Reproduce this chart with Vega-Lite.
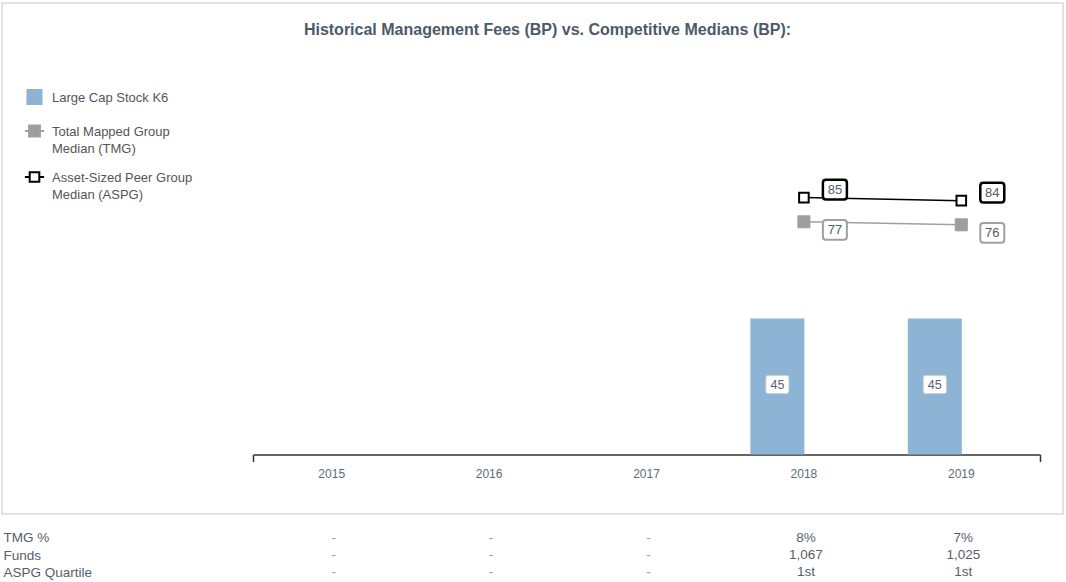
{
  "$schema": "https://vega.github.io/schema/vega-lite/v6.json",
  "background": "white",
  "padding": {"left": 1, "top": 2, "right": 3, "bottom": 0},
  "spacing": 14,
  "config": {
    "font": "Liberation Sans",
    "view": {"stroke": null},
    "legend": {
      "orient": "none",
      "padding": 0,
      "rowPadding": 12,
      "symbolSize": 256,
      "symbolStrokeWidth": 2,
      "symbolFillColor": "#000000",
      "symbolStrokeColor": "#000000",
      "symbolOpacity": 1,
      "labelFont": "Liberation Sans",
      "labelFontSize": 13,
      "labelColor": "#555555",
      "labelOffset": 8.5,
      "labelLimit": 400,
      "labelBaseline": "alphabetic"
    }
  },
  "datasets": {
    "fees": [
      {"year": "2018", "series": "Large Cap Stock K6", "value": 45},
      {"year": "2019", "series": "Large Cap Stock K6", "value": 45},
      {"year": "2018", "series": "Total Mapped Group Median (TMG)", "value": 77},
      {"year": "2019", "series": "Total Mapped Group Median (TMG)", "value": 76},
      {"year": "2018", "series": "Asset-Sized Peer Group Median (ASPG)", "value": 85},
      {"year": "2019", "series": "Asset-Sized Peer Group Median (ASPG)", "value": 84}
    ],
    "table": [
      {"row": "TMG %", "year": "2015", "text": "-"},
      {"row": "TMG %", "year": "2016", "text": "-"},
      {"row": "TMG %", "year": "2017", "text": "-"},
      {"row": "TMG %", "year": "2018", "text": "8%"},
      {"row": "TMG %", "year": "2019", "text": "7%"},
      {"row": "Funds", "year": "2015", "text": "-"},
      {"row": "Funds", "year": "2016", "text": "-"},
      {"row": "Funds", "year": "2017", "text": "-"},
      {"row": "Funds", "year": "2018", "text": "1,067"},
      {"row": "Funds", "year": "2019", "text": "1,025"},
      {"row": "ASPG Quartile", "year": "2015", "text": "-"},
      {"row": "ASPG Quartile", "year": "2016", "text": "-"},
      {"row": "ASPG Quartile", "year": "2017", "text": "-"},
      {"row": "ASPG Quartile", "year": "2018", "text": "1st"},
      {"row": "ASPG Quartile", "year": "2019", "text": "1st"}
    ]
  },
  "vconcat": [
    {
      "width": 1061,
      "height": 511,
      "view": {"stroke": "#d9d9d9", "strokeWidth": 1.5},
      "title": {
        "text": "Historical Management Fees (BP) vs. Competitive Medians (BP):",
        "frame": "group",
        "anchor": "middle",
        "offset": -43,
        "baseline": "middle",
        "dx": 15,
        "fontSize": 16,
        "font": "Liberation Sans",
        "fontWeight": "bold",
        "color": "#4b5a69"
      },
      "data": {"name": "fees"},
      "resolve": {"axis": {"x": "independent"}},
      "encoding": {
        "x": {
          "field": "year",
          "type": "ordinal",
          "scale": {"domain": ["2015", "2016", "2017", "2018", "2019"], "range": [251, 1038], "paddingInner": 0, "paddingOuter": 0},
          "axis": null
        },
        "y": {
          "field": "value",
          "type": "quantitative",
          "scale": {"domain": [0, 149.4], "range": [451.5, 0], "zero": false, "nice": false},
          "axis": null
        }
      },
      "layer": [
        {
          "transform": [{"filter": "datum.series === 'Large Cap Stock K6'"}],
          "mark": {"type": "bar", "width": 54, "xOffset": -26.5},
          "encoding": {
            "x": {
              "field": "year",
              "type": "ordinal",
              "axis": {
                "orient": "bottom",
                "title": null,
                "labelAngle": 0,
                "offset": -59.5,
                "domainColor": "#333333",
                "domainWidth": 1.5,
                "bandPosition": 0,
                "tickSize": 7,
                "tickWidth": 1.5,
                "tickColor": "#333333",
                "tickOpacity": {"condition": {"test": "datum.value === '2015'", "value": 1}, "value": 0},
                "labelPadding": 7,
                "labelFontSize": 12,
                "labelColor": "#5b6b7b",
                "labelFont": "Liberation Sans"
              }
            },
            "fill": {
              "field": "series",
              "type": "nominal",
              "scale": {
                "domain": ["Large Cap Stock K6", "Total Mapped Group Median (TMG)", "Asset-Sized Peer Group Median (ASPG)"],
                "range": ["#8db3d5", "#9e9e9e", "#ffffff"]
              },
              "legend": {"title": null}
            }
          }
        },
        {
          "transform": [{"filter": "datum.series === 'Large Cap Stock K6'"}],
          "mark": {
            "type": "point",
            "shape": "M-0.83,-0.78H0.83Q1,-0.78 1,-0.61V0.61Q1,0.78 0.83,0.78H-0.83Q-1,0.78 -1,0.61V-0.61Q-1,-0.78 -0.83,-0.78Z",
            "size": 529,
            "filled": true,
            "fill": "#ffffff",
            "stroke": "#d0d0d0",
            "strokeWidth": 1,
            "opacity": 1,
            "xOffset": -26.5,
            "yOffset": 66
          }
        },
        {
          "transform": [{"filter": "datum.series === 'Large Cap Stock K6'"}],
          "mark": {"type": "text", "fontSize": 12.5, "color": "#556270", "xOffset": -26.5, "yOffset": 66, "baseline": "middle"},
          "encoding": {"text": {"field": "value", "type": "quantitative"}}
        },
        {
          "transform": [{"filter": "datum.series !== 'Large Cap Stock K6'"}],
          "mark": {"type": "line", "strokeWidth": 1.5},
          "encoding": {
            "stroke": {
              "field": "series",
              "type": "nominal",
              "scale": {
                "domain": ["Large Cap Stock K6", "Total Mapped Group Median (TMG)", "Asset-Sized Peer Group Median (ASPG)"],
                "range": ["#8db3d5", "#a0a0a0", "#000000"]
              },
              "legend": {"title": null}
            }
          }
        },
        {
          "transform": [{"filter": "datum.series === 'Total Mapped Group Median (TMG)'"}],
          "mark": {"type": "point", "shape": "square", "size": 144, "filled": true, "fill": "#9e9e9e", "stroke": "#9e9e9e", "strokeWidth": 1, "opacity": 1}
        },
        {
          "transform": [{"filter": "datum.series === 'Asset-Sized Peer Group Median (ASPG)'"}],
          "mark": {"type": "point", "shape": "square", "size": 92, "filled": true, "fill": "#ffffff", "stroke": "#000000", "strokeWidth": 2, "opacity": 1}
        },
        {
          "transform": [{"filter": "datum.series !== 'Large Cap Stock K6'"}],
          "mark": {"type": "point", "opacity": 0},
          "encoding": {
            "x": {
              "field": "year",
              "type": "ordinal",
              "axis": {
                "orient": "bottom",
                "title": null,
                "labels": false,
                "domain": false,
                "offset": -59.5,
                "bandPosition": 1,
                "tickSize": 7,
                "tickWidth": 1.5,
                "tickColor": "#333333",
                "tickOpacity": {"condition": {"test": "datum.value === '2019'", "value": 1}, "value": 0}
              }
            },
            "fill": {"field": "series", "type": "nominal", "legend": {
              "title": null, "legendX": 23.5, "legendY": 85,
              "labelExpr": "datum.label === 'Total Mapped Group Median (TMG)' ? ['Total Mapped Group', 'Median (TMG)'] : datum.label === 'Asset-Sized Peer Group Median (ASPG)' ? ['Asset-Sized Peer Group', 'Median (ASPG)'] : datum.label",
              "encode": {"labels": {"update": {"dy": {"value": 4.5}, "lineHeight": {"value": 17}}}}
            }},
            "stroke": {"field": "series", "type": "nominal", "legend": {
              "title": null, "legendX": 23.5, "legendY": 85,
              "labelExpr": "datum.label === 'Total Mapped Group Median (TMG)' ? ['Total Mapped Group', 'Median (TMG)'] : datum.label === 'Asset-Sized Peer Group Median (ASPG)' ? ['Asset-Sized Peer Group', 'Median (ASPG)'] : datum.label",
              "encode": {"labels": {"update": {"dy": {"value": 4.5}, "lineHeight": {"value": 17}}}}
            }},
            "shape": {
              "field": "series",
              "type": "nominal",
              "scale": {
                "domain": ["Large Cap Stock K6", "Total Mapped Group Median (TMG)", "Asset-Sized Peer Group Median (ASPG)"],
                "range": [
                  "M-0.88,-0.88H0.88V0.88H-0.88Z",
                  "M-1.2,0H-0.68M0.68,0H1.2M-0.68,-0.68H0.68V0.68H-0.68Z",
                  "M-1.2,0H-0.6M0.6,0H1.2M-0.6,-0.6H0.6V0.6H-0.6Z"
                ]
              },
              "legend": {
                "title": null, "legendX": 23.5, "legendY": 85,
                "labelExpr": "datum.label === 'Total Mapped Group Median (TMG)' ? ['Total Mapped Group', 'Median (TMG)'] : datum.label === 'Asset-Sized Peer Group Median (ASPG)' ? ['Asset-Sized Peer Group', 'Median (ASPG)'] : datum.label",
                "encode": {"labels": {"update": {"dy": {"value": 4.5}, "lineHeight": {"value": 17}}}}
              }
            }
          }
        },
        {
          "transform": [{"filter": "datum.series === 'Total Mapped Group Median (TMG)'"}],
          "mark": {
            "type": "point",
            "shape": "M-0.75,-0.82H0.75Q1,-0.82 1,-0.57V0.57Q1,0.82 0.75,0.82H-0.75Q-1,0.82 -1,0.57V-0.57Q-1,-0.82 -0.75,-0.82Z",
            "size": 576, "filled": true, "fill": "#ffffff", "stroke": "#a0a0a0", "strokeWidth": 2, "opacity": 1,
            "xOffset": 31, "yOffset": 8
          }
        },
        {
          "transform": [{"filter": "datum.series === 'Asset-Sized Peer Group Median (ASPG)'"}],
          "mark": {
            "type": "point",
            "shape": "M-0.75,-0.82H0.75Q1,-0.82 1,-0.57V0.57Q1,0.82 0.75,0.82H-0.75Q-1,0.82 -1,0.57V-0.57Q-1,-0.82 -0.75,-0.82Z",
            "size": 576, "filled": true, "fill": "#ffffff", "stroke": "#000000", "strokeWidth": 2.5, "opacity": 1,
            "xOffset": 31, "yOffset": -8
          }
        },
        {
          "transform": [{"filter": "datum.series === 'Total Mapped Group Median (TMG)'"}],
          "mark": {"type": "text", "fontSize": 13, "color": "#4e5e6e", "xOffset": 31, "yOffset": 8, "baseline": "middle"},
          "encoding": {"text": {"field": "value", "type": "quantitative"}}
        },
        {
          "transform": [{"filter": "datum.series === 'Asset-Sized Peer Group Median (ASPG)'"}],
          "mark": {"type": "text", "fontSize": 13, "color": "#4e5e6e", "xOffset": 31, "yOffset": -8, "baseline": "middle"},
          "encoding": {"text": {"field": "value", "type": "quantitative"}}
        }
      ]
    },
    {
      "width": 1061,
      "height": 52,
      "data": {"name": "table"},
      "mark": {"type": "text", "fontSize": 13.5, "baseline": "middle"},
      "encoding": {
        "x": {
          "field": "year",
          "type": "ordinal",
          "scale": {"domain": ["2015", "2016", "2017", "2018", "2019"], "range": [253, 1040], "paddingInner": 0, "paddingOuter": 0},
          "axis": null
        },
        "y": {
          "field": "row",
          "type": "ordinal",
          "scale": {"domain": ["TMG %", "Funds", "ASPG Quartile"], "paddingInner": 0, "paddingOuter": 0},
          "axis": {
            "title": null,
            "domain": false,
            "ticks": false,
            "tickSize": 0,
            "labelAlign": "left",
            "labelPadding": -1,
            "labelFontSize": 13.5,
            "labelColor": "#56606b",
            "labelFont": "Liberation Sans",
            "labelLimit": 300
          }
        },
        "text": {"field": "text", "type": "nominal"},
        "color": {"condition": {"test": "datum.text === '-'", "value": "#9a9a9a"}, "value": "#56606b"}
      }
    }
  ]
}
